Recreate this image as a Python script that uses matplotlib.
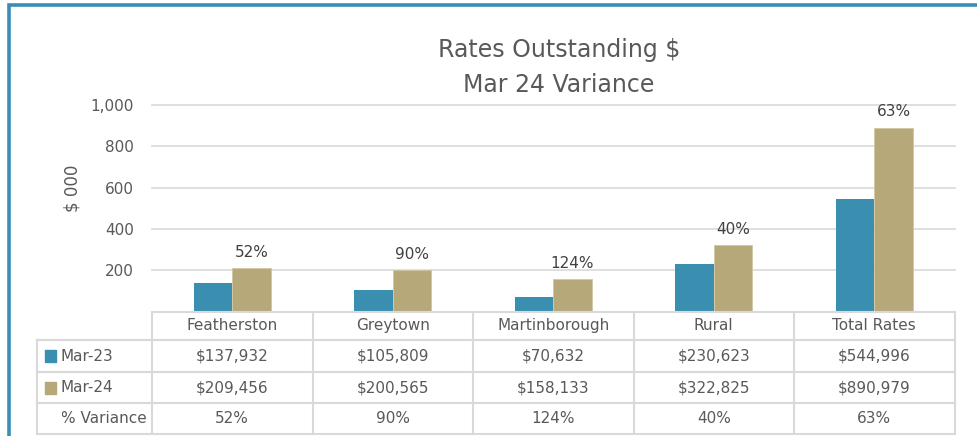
import matplotlib
matplotlib.use('Agg')
import matplotlib.pyplot as plt
from matplotlib.lines import Line2D
from matplotlib.patches import Rectangle

# data ($000 on the chart, full dollars in the table)
categories = ['Featherston', 'Greytown', 'Martinborough', 'Rural', 'Total Rates']
mar23 = [137932, 105809, 70632, 230623, 544996]
mar24 = [209456, 200565, 158133, 322825, 890979]
variance = [52, 90, 124, 40, 63]
series_names = ['Mar-23', 'Mar-24']
yticks = [200, 400, 600, 800, 1000]

TEAL = '#3A8FB1'
TAN = '#B6A878'
TXT = '#595959'
GRID = '#D9D9D9'

W, H = 977, 436
fig = plt.figure(figsize=(W / 100, H / 100), dpi=100)

def fx(x):
    return x / W

def fy(y):
    return 1 - y / H

# plot area
left, right, top, base = 152, 954.5, 105, 311.5
ax = fig.add_axes([fx(left), fy(base), (right - left) / W, (base - top) / H])
xs = range(len(categories))
bw = 0.24
ax.bar([x - bw for x in xs], [v / 1000 for v in mar23], width=bw, align='edge', color=TEAL, zorder=3)
ax.bar(list(xs), [v / 1000 for v in mar24], width=bw, align='edge', color=TAN,
       edgecolor='#CFC6A2', linewidth=0.6, zorder=3)
for x, v, p in zip(xs, mar24, variance):
    ax.annotate('%d%%' % p, xy=(x + bw / 2, v / 1000), xytext=(0, 6), textcoords='offset points',
                ha='center', va='bottom', fontsize=11, color='#404040')

ax.set_xlim(-0.5, len(categories) - 0.5)
ax.set_ylim(0, 1000)
ax.set_yticks(yticks)
ax.set_yticklabels(['{:,}'.format(t) for t in yticks])
ax.set_xticks([])
ax.tick_params(axis='y', length=0, pad=13, labelsize=11, labelcolor=TXT)
ax.yaxis.grid(True, color=GRID, linewidth=1.2)
for gl in ax.get_ygridlines():
    gl.set_clip_on(False)
ax.set_axisbelow(True)
for s in ax.spines.values():
    s.set_visible(False)

# axis title, placed in figure pixels
fig.text(fx(73), fy(188), '$ 000', rotation=90, ha='center', va='center', fontsize=12, color=TXT)

# title
fig.text(fx(559), fy(57), 'Rates Outstanding $', ha='center', va='baseline', fontsize=17, color=TXT)
fig.text(fx(559), fy(92), 'Mar 24 Variance', ha='center', va='baseline', fontsize=17, color=TXT)

# data table under the chart
col_w = (right - left) / len(categories)
row_y = [311.5, 340, 372, 403, 434]
lbl_left = 37

def hline(x0, x1, y):
    fig.add_artist(Line2D([fx(x0), fx(x1)], [fy(y), fy(y)], color=GRID, lw=1.5))

def vline(x, y0, y1):
    fig.add_artist(Line2D([fx(x), fx(x)], [fy(y0), fy(y1)], color=GRID, lw=1.5))

hline(left, right, row_y[0])
for y in row_y[1:]:
    hline(lbl_left, right, y)
vline(lbl_left, row_y[1], row_y[-1])
for i in range(len(categories) + 1):
    vline(left + i * col_w, row_y[0], row_y[-1])

rows = [
    ['${:,}'.format(v) for v in mar23],
    ['${:,}'.format(v) for v in mar24],
    ['%d%%' % p for p in variance],
]
row_labels = series_names + ['% Variance']
row_colors = [TEAL, TAN, None]

for i, c in enumerate(categories):
    cx = left + (i + 0.5) * col_w
    fig.text(fx(cx), fy((row_y[0] + row_y[1]) / 2), c, ha='center', va='center', fontsize=11, color=TXT)
    for r, vals in enumerate(rows):
        fig.text(fx(cx), fy((row_y[r + 1] + row_y[r + 2]) / 2), vals[i], ha='center', va='center',
                 fontsize=11, color=TXT)

for r, (lab, col) in enumerate(zip(row_labels, row_colors)):
    cy = (row_y[r + 1] + row_y[r + 2]) / 2
    if col:
        fig.add_artist(Rectangle((fx(45), fy(cy + 6)), 11 / W, 12 / H, color=col))
    fig.text(fx(61), fy(cy), lab, ha='left', va='center', fontsize=11, color=TXT)

# outer frame (left and top edges visible)
fig.add_artist(Rectangle((fx(8.5), fy(H + 20)), (W + 20) / W, (H + 20 - 5.5) / H, fill=False,
                         edgecolor='#3B8DB4', lw=2.6))

fig.savefig('out.png', dpi=100)
